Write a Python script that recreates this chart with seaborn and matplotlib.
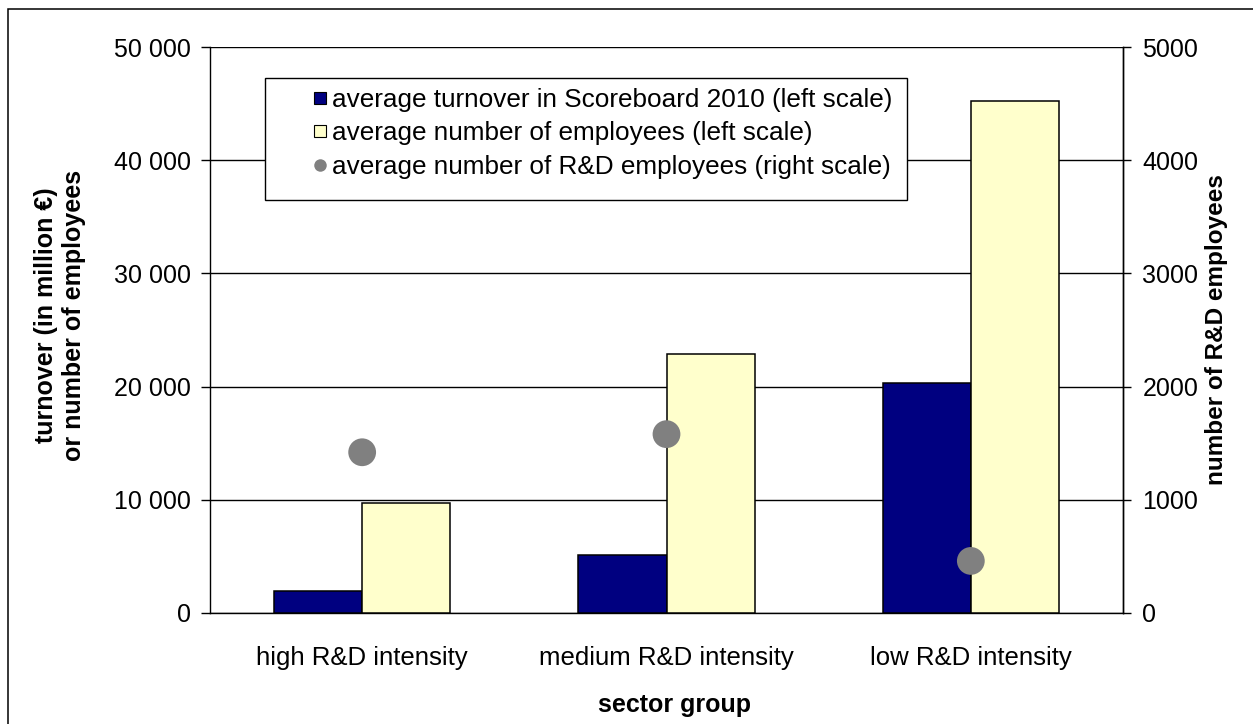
import numpy as np
import pandas as pd
import matplotlib.pyplot as plt
import seaborn as sns
from matplotlib.lines import Line2D
from matplotlib.patches import Rectangle

# data
categories = ["high R&D intensity", "medium R&D intensity", "low R&D intensity"]
turnover = [1950, 5100, 20300]          # average turnover (left scale)
employees = [9700, 22900, 45200]        # average number of employees (left scale)
rd_employees = [1420, 1580, 460]        # average number of R&D employees (right scale)

series_names = [
    "average turnover in Scoreboard 2010 (left scale)",
    "average number of employees (left scale)",
    "average number of R&D employees (right scale)",
]
left_ticks = [0, 10000, 20000, 30000, 40000, 50000]
right_ticks = [0, 1000, 2000, 3000, 4000, 5000]

navy = "#000080"
pale = "#FFFFCC"
grey = "#808080"

sns.set_style("white")
plt.rcParams["font.family"] = ["Liberation Sans", "DejaVu Sans"]
plt.rcParams["text.color"] = "black"
plt.rcParams["xtick.color"] = "black"
plt.rcParams["ytick.color"] = "black"
plt.rcParams["axes.labelcolor"] = "black"

df = pd.DataFrame({
    "sector": categories * 2,
    "series": [series_names[0]] * 3 + [series_names[1]] * 3,
    "value": turnover + employees,
})

W, H = 1253, 724
fig = plt.figure(figsize=(W / 100, H / 100), dpi=100)
ax = fig.add_axes([210 / W, 1 - 613 / H, (1123 - 210) / W, (613 - 47) / H])

sns.barplot(data=df, x="sector", y="value", hue="series",
            palette=[navy, pale], saturation=1, width=0.58, edgecolor="black",
            linewidth=1.1, ax=ax, legend=False, zorder=3)

ax.set_xlim(-0.5, len(categories) - 0.5)
ax.set_ylim(0, 50000)
ax.set_yticks(left_ticks)
ax.set_yticklabels([f"{v:,}".replace(",", " ") for v in left_ticks], fontsize=18)
ax.yaxis.grid(True, color="black", linewidth=1.0, zorder=0)
ax.set_axisbelow(True)
ax.tick_params(axis="y", direction="out", length=6.5, width=1, color="black", pad=7)
ax.set_xticks(range(len(categories)))
ax.set_xticklabels(categories, fontsize=18.5)
ax.tick_params(axis="x", which="major", length=0, pad=24)
ax.set_xticks(np.arange(-0.5, len(categories)), minor=True)
ax.tick_params(axis="x", which="minor", direction="inout", length=13, width=1, color="black")
ax.set_xlabel("")
ax.set_ylabel("")
for s in ["left", "bottom", "right"]:
    ax.spines[s].set_color("black")
    ax.spines[s].set_linewidth(1.0)
ax.spines["top"].set_visible(False)

ax2 = ax.twinx()
sns.scatterplot(x=np.arange(len(categories)), y=rd_employees, ax=ax2,
                color=grey, s=400, edgecolor="none", zorder=5)
ax2.set_ylim(0, 5000)
ax2.set_yticks(right_ticks)
ax2.set_yticklabels([str(v) for v in right_ticks], fontsize=18)
ax2.tick_params(axis="y", direction="out", length=6, width=1, color="black", pad=8)
ax2.spines["right"].set_color("black")
ax2.spines["right"].set_linewidth(1.0)
ax2.spines["top"].set_visible(False)
ax2.spines["left"].set_visible(False)
ax2.spines["bottom"].set_visible(False)
ax2.grid(False)

# axis titles
fig.text(60 / W, 1 - 315 / H, "turnover (in million €)\nor number of employees",
         rotation=90, ha="center", va="center", fontsize=18, fontweight="bold",
         linespacing=1.25)
fig.text(1217 / W, 1 - 330 / H, "number of R&D employees", rotation=90,
         ha="center", va="center", fontsize=17.5, fontweight="bold")
fig.text(675 / W, 1 - 705 / H, "sector group", ha="center", va="center",
         fontsize=18, fontweight="bold")

# legend box (white, hides gridlines) and legend entries on top
fig.patches.append(Rectangle((265 / W, 1 - 200 / H), (907 - 265) / W, (200 - 78) / H,
                             transform=fig.transFigure, facecolor="white",
                             edgecolor="black", linewidth=1.0, zorder=3))
handles = [
    Line2D([], [], linestyle="none", marker="s", markersize=8,
           markerfacecolor=navy, markeredgecolor="black", markeredgewidth=0.8),
    Line2D([], [], linestyle="none", marker="s", markersize=8,
           markerfacecolor=pale, markeredgecolor="black", markeredgewidth=0.8),
    Line2D([], [], linestyle="none", marker="o", markersize=9,
           markerfacecolor=grey, markeredgecolor="none"),
]
leg = fig.legend(handles, series_names, loc="upper left",
                 bbox_to_anchor=(314 / W, 1 - 88 / H), frameon=False, fontsize=18.8,
                 handlelength=0.45, handletextpad=0.25, borderpad=0, borderaxespad=0,
                 labelspacing=0.36)
leg.set_zorder(6)

# outer chart border
fig.patches.append(Rectangle((8 / W, -0.05), 1.1, 1 - 9 / H + 0.05,
                             transform=fig.transFigure, fill=False,
                             edgecolor="black", linewidth=1.1))

fig.savefig("out.png", dpi=100)
